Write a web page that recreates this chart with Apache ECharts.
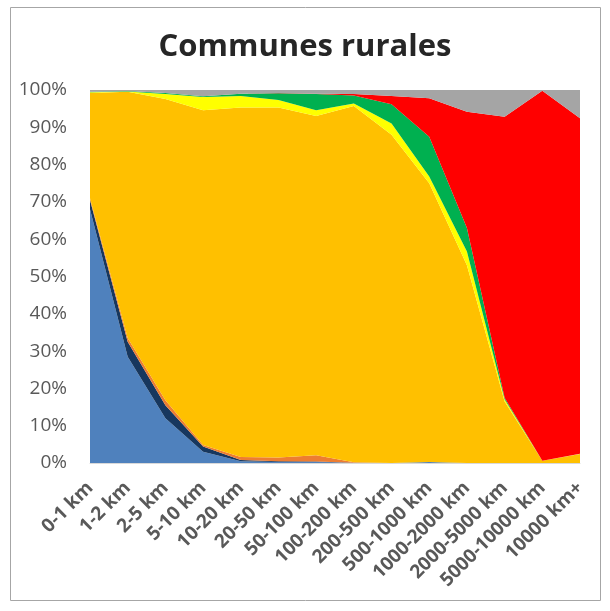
<!DOCTYPE html>
<html>
<head>
<meta charset="utf-8">
<script src="https://cdn.jsdelivr.net/npm/echarts@6/dist/echarts.min.js"></script>
<style>
html,body{margin:0;padding:0;background:#fff;}
#chart{width:610px;height:611px;}
</style>
</head>
<body>
<div id="chart"></div>
<script>
const categories = ['0-1 km','1-2 km','2-5 km','5-10 km','10-20 km','20-50 km','50-100 km','100-200 km','200-500 km','500-1000 km','1000-2000 km','2000-5000 km','5000-10000 km','10000 km+'];
const yTicks = [0,10,20,30,40,50,60,70,80,90,100];

const blueVals   = [68, 28.5, 12, 3, 0.5, 0.3, 0.3, 0.1, 0, 0.3, 0, 0, 0, 0];
const navyVals   = [2.5, 4, 3.5, 1.4, 0.3, 0.2, 0.1, 0, 0, 0, 0, 0, 0, 0];
const orangeVals = [0.5, 1, 1.3, 0.4, 0.8, 1, 1.7, 0.1, 0, 0, 0, 0, 0, 0];
const goldVals   = [28.2, 66, 80.8, 89.8, 93.7, 93.8, 90.9, 95.5, 88, 74.7, 53, 16.5, 0.6, 2.4];
const yellowVals = [0.2, 0.1, 1.3, 3.5, 3.1, 2.0, 1.6, 0.7, 3.0, 1.8, 3.7, 0.6, 0, 0.1];
const greenVals  = [0.1, 0.1, 0.3, 0.2, 0.6, 1.8, 4.3, 2.1, 5.2, 10.7, 6.3, 0.4, 0, 0];
const redVals    = [0, 0, 0, 0, 0, 0.1, 0.1, 0.4, 2.2, 10.3, 31.2, 75.3, 99.2, 89.9];
const grayVals   = [0.5, 0.3, 0.8, 1.7, 1.0, 0.8, 1.0, 1.1, 1.6, 2.2, 5.8, 7.2, 0.2, 7.6];

const seriesDefs = [
  ['s1', blueVals, '#4F81BD'],
  ['s2', navyVals, '#17375E'],
  ['s3', orangeVals, '#ED7D31'],
  ['s4', goldVals, '#FFC000'],
  ['s5', yellowVals, '#FFFF00'],
  ['s6', greenVals, '#00B050'],
  ['s7', redVals, '#FF0000'],
  ['s8', grayVals, '#A5A5A5']
];

const chart = echarts.init(document.getElementById('chart'), null, {renderer:'canvas'});
chart.setOption({
  animation: false,
  backgroundColor: '#fff',
  title: {
    text: 'Communes rurales',
    left: 'center',
    top: 27,
    textStyle: {fontFamily: 'Open Sans', fontWeight: 'bold', fontSize: 31, color: '#262626'}
  },
  graphic: [{
    type: 'rect',
    shape: {x: 10.5, y: 7.5, width: 590, height: 593},
    style: {fill: 'none', stroke: '#A6A6A6', lineWidth: 1},
    silent: true
  }],
  grid: {left: 90, right: 30, top: 90, bottom: 148},
  xAxis: {
    type: 'category',
    data: categories,
    boundaryGap: false,
    axisLine: {lineStyle: {color: '#D9D9D9', width: 1}},
    axisTick: {show: false},
    axisLabel: {
      rotate: 45,
      interval: 0,
      margin: 22,
      fontFamily: 'Open Sans',
      fontWeight: 'bold',
      fontSize: 19,
      color: '#595959'
    }
  },
  yAxis: {
    type: 'value',
    min: 0,
    max: 100,
    interval: 10,
    axisLine: {show: false},
    axisTick: {show: false},
    splitLine: {show: false},
    axisLabel: {
      formatter: function(v){ return yTicks.indexOf(v) >= 0 ? v + '%' : ''; },
      margin: 23,
      fontFamily: 'Open Sans',
      fontSize: 19,
      color: '#595959'
    }
  },
  series: seriesDefs.map(function(d){
    return {
      name: d[0],
      type: 'line',
      stack: 'total',
      data: d[1],
      symbol: 'none',
      smooth: false,
      lineStyle: {width: 0},
      areaStyle: {color: d[2], opacity: 1},
      itemStyle: {color: d[2]},
      z: 2
    };
  })
});
</script>
</body>
</html>
